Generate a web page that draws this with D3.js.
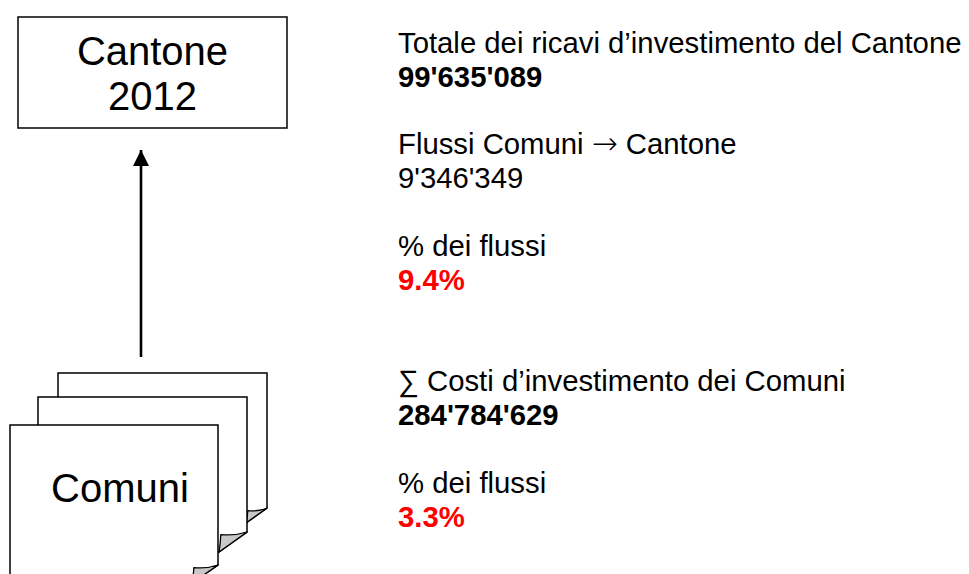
<!DOCTYPE html>
<html>
<head>
<meta charset="utf-8">
<script src="https://cdn.jsdelivr.net/npm/d3@7"></script>
<style>
  body { margin: 0; background: #fff; }
  svg { display: block; font-family: 'Liberation Sans', Arial, sans-serif; }
</style>
</head>
<body>
<script>
// diagram content
const cantoneLines = ['Cantone', '2012'];
const comuniLabel = 'Comuni';
const infoLabels = [
  'Totale dei ricavi d\u2019investimento del Cantone',
  'Flussi Comuni \u2192 Cantone',
  '% dei flussi',
  '\u2211 Costi d\u2019investimento dei Comuni',
  '% dei flussi'
];
const infoValues = ['99\'635\'089', '9\'346\'349', '9.4%', '284\'784\'629', '3.3%'];
// line slot of each label (value goes on the next slot)
const infoSlots = [0, 3, 6, 10, 13];

const width = 969;
const height = 574;

const svg = d3.select('body').append('svg')
  .attr('width', width)
  .attr('height', height);

// ---- Cantone box
const box = { x: 18, y: 17, w: 269, h: 111 };
svg.append('rect')
  .attr('x', box.x).attr('y', box.y)
  .attr('width', box.w).attr('height', box.h)
  .attr('fill', '#fff')
  .attr('stroke', '#111')
  .attr('stroke-width', 1.6);

svg.append('g').selectAll('text')
  .data(cantoneLines)
  .enter().append('text')
    .attr('x', box.x + box.w / 2)
    .attr('y', (d, i) => 65 + i * 45)
    .attr('text-anchor', 'middle')
    .attr('font-size', 40)
    .attr('fill', '#000')
    .text(d => d);

// ---- arrow Comuni -> Cantone
svg.append('defs').append('marker')
  .attr('id', 'head')
  .attr('viewBox', '0 0 10 10')
  .attr('refX', 10).attr('refY', 5)
  .attr('markerUnits', 'userSpaceOnUse')
  .attr('markerWidth', 16).attr('markerHeight', 16)
  .attr('orient', 'auto')
  .append('path')
    .attr('d', 'M0,0 L10,5 L0,10 Z')
    .attr('fill', '#000');

svg.append('line')
  .attr('x1', 141).attr('y1', 357)
  .attr('x2', 141).attr('y2', 150)
  .attr('stroke', '#000')
  .attr('stroke-width', 2.6)
  .attr('marker-end', 'url(#head)');

// ---- stack of documents (back to front)
const pages = [
  { x: 58, y: 373, w: 209, h: 150, fx: 21, fy: 15 },
  { x: 38, y: 397, w: 209, h: 155, fx: 28, fy: 20 },
  { x: 10, y: 425, w: 208, h: 158, fx: 26, fy: 18 }
];

const pageG = svg.append('g');
pages.forEach((p) => {
  const r = p.x + p.w;
  const b = p.y + p.h;
  const path = d3.path();
  path.moveTo(p.x, p.y);
  path.lineTo(r, p.y);
  path.lineTo(r, b - p.fy);
  path.lineTo(r - p.fx, b);
  path.lineTo(p.x, b);
  path.closePath();
  pageG.append('path')
    .attr('d', path.toString())
    .attr('fill', '#fff')
    .attr('stroke', '#000')
    .attr('stroke-width', 1.5)
    .attr('stroke-linejoin', 'miter');

  // folded flap
  const cx = r - p.fx + 1.8;
  const cy = b - p.fy + 2.6;
  const flap = d3.path();
  flap.moveTo(r, b - p.fy);
  flap.quadraticCurveTo(r - p.fx * 0.45, b - p.fy + 4, cx, cy);
  flap.quadraticCurveTo(r - p.fx + 1.5, b - p.fy * 0.45, r - p.fx, b);
  flap.closePath();
  pageG.append('path')
    .attr('d', flap.toString())
    .attr('fill', '#c8c8c8')
    .attr('stroke', '#000')
    .attr('stroke-width', 1.3)
    .attr('stroke-linejoin', 'round');
});

svg.append('text')
  .attr('x', 120)
  .attr('y', 502)
  .attr('text-anchor', 'middle')
  .attr('font-size', 40)
  .attr('fill', '#000')
  .text(comuniLabel);

// ---- info text column
const lineY = d3.scaleLinear().domain([0, 14]).range([53, 526.5]);
const textX = 398;
const info = svg.append('g').attr('font-size', 29.3);

// the arrow gets its own tspan so it renders wider, like the symbol-font arrow
info.selectAll('text.label')
  .data(infoLabels)
  .enter().append('text')
    .attr('class', 'label')
    .attr('x', textX)
    .attr('y', (d, i) => lineY(infoSlots[i]))
    .attr('fill', '#000')
    .each(function (d) {
      const t = d3.select(this);
      d.split(/(\u2192)/).filter(s => s.length).forEach((part) => {
        const sp = t.append('tspan').text(part);
        if (part === '\u2192') {
          sp.attr('font-family', 'DejaVu Sans')
            .attr('font-weight', 200)
            .attr('font-size', 31);
        }
      });
    });

info.selectAll('text.value')
  .data(infoValues)
  .enter().append('text')
    .attr('class', 'value')
    .attr('x', textX)
    .attr('y', (d, i) => lineY(infoSlots[i] + 1))
    .attr('font-weight', (d, i) => (i === 1 ? 'normal' : 'bold'))
    .attr('fill', d => (d.endsWith('%') ? '#ff0000' : '#000'))
    .text(d => d);
</script>
</body>
</html>
